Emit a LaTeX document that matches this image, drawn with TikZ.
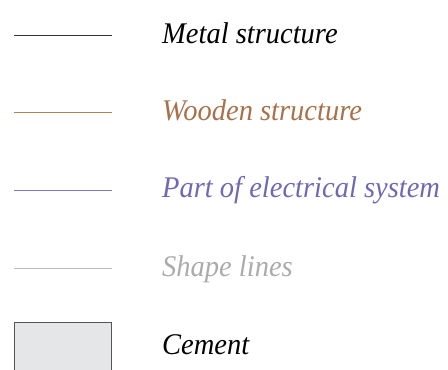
\documentclass[tikz,border=0pt]{standalone}
\usepackage{fontspec}
\newfontfamily\legfont[FakeStretch=0.95]{Liberation Serif}
\begin{document}
\definecolor{metalc}{HTML}{333333}
\definecolor{woodc}{HTML}{B0805A}
\definecolor{woodt}{HTML}{A8714A}
\definecolor{elecc}{HTML}{7E78C4}
\definecolor{elect}{HTML}{6F68B5}
\definecolor{shapec}{HTML}{BBBBBB}
\definecolor{shapet}{HTML}{ABABAB}
\definecolor{cementf}{HTML}{E5E6E8}
\definecolor{cementd}{HTML}{555555}
\begin{tikzpicture}[x=1pt,y=-1pt,
  legline/.style={line width=1pt},
  legtext/.style={anchor=base west,inner sep=0pt,font=\legfont\fontsize{30}{34}\selectfont\itshape}]
\useasboundingbox (0,0) rectangle (448,370);
\clip (0,0) rectangle (448,370);
\coordinate (m1) at (14,35); \coordinate (m2) at (112,35);
\coordinate (w1) at (14,112); \coordinate (w2) at (112,112);
\coordinate (e1) at (14,190); \coordinate (e2) at (112,190);
\coordinate (s1) at (14,268); \coordinate (s2) at (112,268);
\draw[legline,metalc] (m1) -- (m2);
\draw[legline,woodc] (w1) -- (w2);
\draw[legline,elecc] (e1) -- (e2);
\draw[legline,shapec] (s1) -- (s2);
\draw[fill=cementf,draw=cementd,line width=1pt] (14.5,322.5) rectangle (111.5,380) node (cem) {};
\node[legtext,text=black] (tm) at (162,43) {Metal structure};
\node[legtext,text=woodt] (tw) at (162,120) {Wooden structure};
\node[legtext,text=elect] (te) at (162,197) {Part of electrical system};
\node[legtext,text=shapet] (ts) at (162,276) {Shape lines};
\node[legtext,text=black] (tc) at (162,354) {Cement};
\end{tikzpicture}
\end{document}
